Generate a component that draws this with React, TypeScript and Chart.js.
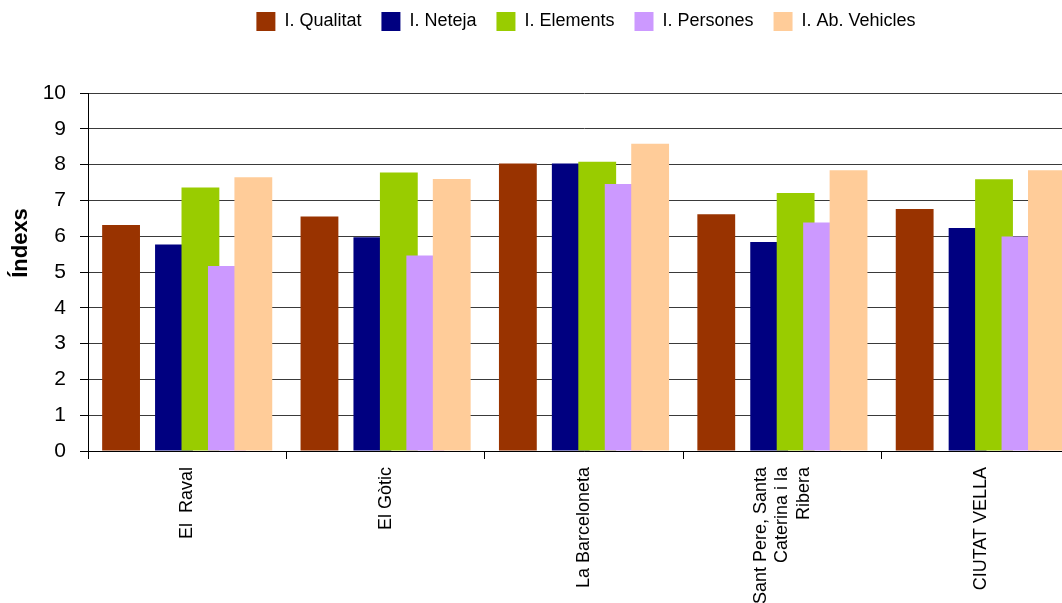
import React, { useEffect, useRef } from "react";
import { Chart, registerables } from "chart.js";

Chart.register(...registerables);

const categories: (string | string[])[] = [
  "El  Raval",
  "El Gòtic",
  "La Barceloneta",
  ["Sant Pere, Santa", "Caterina i la", "Ribera"],
  "CIUTAT VELLA",
];

const seriesNames = ["I. Qualitat", "I. Neteja", "I. Elements", "I. Persones", "I. Ab. Vehicles"];

const qualitat = [6.31, 6.55, 8.03, 6.61, 6.76];
const neteja = [5.77, 5.97, 8.03, 5.84, 6.23];
const elements = [7.36, 7.78, 8.08, 7.21, 7.59];
const persones = [5.17, 5.46, 7.46, 6.38, 5.99];
const vehicles = [7.65, 7.6, 8.58, 7.84, 7.84];

const yTicks = [0, 1, 2, 3, 4, 5, 6, 7, 8, 9, 10];

const colors = ["#993300", "#000080", "#99CC00", "#CC99FF", "#FFCC99"];

const CANVAS_W = 1143;
const CANVAS_H = 603;

const legendFitPlugin = {
  id: "legendFit",
  beforeLayout(chart: any) {
    const lg = chart.legend;
    if (lg && !lg._patchedFit) {
      const orig = lg.fit.bind(lg);
      lg.fit = () => {
        orig();
        lg.height = 101;
      };
      lg._patchedFit = true;
    }
  },
  afterLayout(chart: any) {
    const lg = chart.legend;
    if (lg) {
      lg.left += 46;
      lg.right += 46;
    }
  },
};

const drawOrderPlugin = {
  id: "drawOrder",
  beforeDatasetsDraw(chart: any) {
    const ctx = chart.ctx;
    const area = chart.chartArea;
    ctx.save();
    ctx.beginPath();
    ctx.rect(area.left, area.top, area.right - area.left, area.bottom - area.top);
    ctx.clip();
    for (let i = 0; i < chart.data.datasets.length; i++) {
      const meta = chart.getDatasetMeta(i);
      if (meta && meta.visible !== false && meta.controller) meta.controller.draw();
    }
    ctx.restore();
    return false;
  },
};

export default function App() {
  const ref = useRef<HTMLCanvasElement | null>(null);

  useEffect(() => {
    if (!ref.current) return;
    const values = [qualitat, neteja, elements, persones, vehicles];
    const datasets: any[] = [];
    values.forEach((data, i) => {
      datasets.push({
        label: seriesNames[i],
        data,
        backgroundColor: colors[i],
        borderWidth: 0,
      });
      if (i === 0) {
        // empty spacer slot (as in the original chart's layout)
        datasets.push({
          label: "",
          data: categories.map(() => null),
          backgroundColor: "rgba(0,0,0,0)",
          borderWidth: 0,
        });
      }
    });

    const chart = new Chart(ref.current, {
      type: "bar",
      data: { labels: categories as any, datasets },
      plugins: [legendFitPlugin, drawOrderPlugin],
      options: {
        animation: false,
        responsive: true,
        maintainAspectRatio: false,
        layout: { padding: { top: -8, left: 0, right: CANVAS_W - 1080, bottom: 0 } },
        datasets: {
          bar: { categoryPercentage: 0.8, barPercentage: 1.43 },
        } as any,
        plugins: {
          legend: {
            position: "top",
            labels: {
              boxWidth: 19,
              boxHeight: 19,
              padding: 20,
              color: "#000",
              font: { family: "'Liberation Sans', Arial, sans-serif", size: 18 },
              filter: (item: any) => item.text !== "",
            },
          },
          tooltip: { enabled: false },
        },
        scales: {
          x: {
            afterFit: (s: any) => {
              s.height = 152;
              if (!s._patchedLI) {
                const orig = s._computeLabelItems.bind(s);
                s._computeLabelItems = (ca: any) => {
                  const items = orig(ca);
                  items.forEach((it: any) => {
                    if (Array.isArray(it.label) && it.label.length > 1) {
                      it.textOffset -= ((it.label.length - 1) * it.font.lineHeight) / 2;
                    }
                  });
                  return items;
                };
                s._patchedLI = true;
              }
            },
            grid: {
              display: true,
              drawOnChartArea: false,
              drawTicks: true,
              tickLength: 8,
              color: "#000",
              offset: true,
            },
            border: { display: true, color: "#000", width: 1 },
            ticks: {
              autoSkip: false,
              minRotation: 90,
              maxRotation: 90,
              padding: 8,
              color: "#000",
              font: { family: "'Liberation Sans', Arial, sans-serif", size: 18, lineHeight: 1.2 },
            },
          },
          y: {
            min: 0,
            max: 10,
            afterFit: (s: any) => {
              s.width = 88;
              if (!s._patchedTitle) {
                const orig = s.drawTitle.bind(s);
                s.drawTitle = (...args: any[]) => {
                  s.ctx.save();
                  s.ctx.translate(0, -29);
                  orig(...args);
                  s.ctx.restore();
                };
                s._patchedTitle = true;
              }
            },
            afterBuildTicks: (s: any) => {
              s.ticks = yTicks.map((v) => ({ value: v }));
            },
            grid: {
              color: "#3a3a3a",
              lineWidth: 1,
              drawTicks: true,
              tickLength: 8,
              tickColor: "#000",
            },
            border: { display: true, color: "#000", width: 1 },
            ticks: {
              padding: 14,
              color: "#000",
              font: { family: "'Liberation Sans', Arial, sans-serif", size: 21 },
            },
            title: {
              display: true,
              text: "Índexs",
              color: "#000",
              padding: { top: 8, bottom: 0 },
              font: { family: "'Liberation Sans', Arial, sans-serif", size: 22, weight: "bold" },
            },
          },
        },
      },
    });
    return () => chart.destroy();
  }, []);

  return (
    <div
      style={{
        position: "fixed",
        left: 0,
        top: 0,
        width: 1062,
        height: CANVAS_H,
        overflow: "hidden",
        background: "#fff",
      }}
    >
      <div style={{ position: "relative", width: CANVAS_W, height: CANVAS_H }}>
        <canvas ref={ref} />
      </div>
    </div>
  );
}
